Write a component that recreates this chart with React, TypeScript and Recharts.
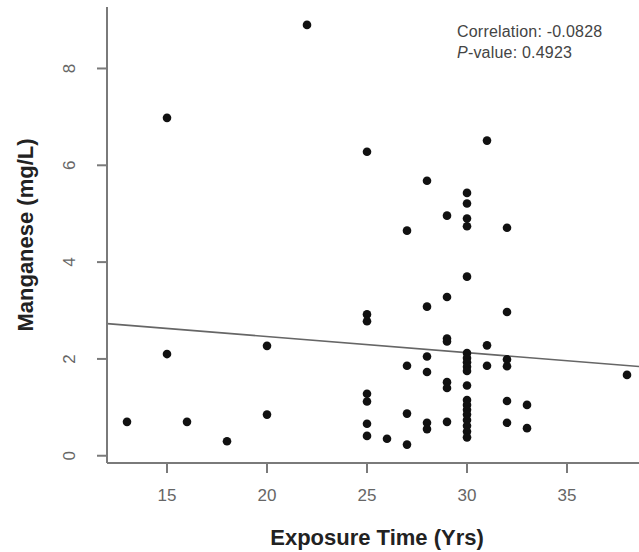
import { ScatterChart, Scatter, XAxis, YAxis, ReferenceLine, Label } from "recharts"

// exposure years and manganese readings, paired by index
const exposureYears = [
  13, 15, 15, 16, 18, 20, 20, 22,
  25, 25, 25, 25, 25, 25, 25, 26,
  27, 27, 27, 27,
  28, 28, 28, 28, 28, 28,
  29, 29, 29, 29, 29, 29, 29,
  30, 30, 30, 30, 30, 30, 30, 30, 30, 30, 30, 30, 30, 30, 30, 30, 30, 30, 30,
  31, 31, 31,
  32, 32, 32, 32, 32, 32,
  33, 33, 38,
]
const manganese = [
  0.7, 6.98, 2.1, 0.7, 0.3, 2.27, 0.85, 8.9,
  6.28, 2.92, 2.78, 1.28, 1.12, 0.66, 0.41, 0.35,
  4.65, 1.86, 0.87, 0.23,
  5.68, 3.08, 2.05, 1.73, 0.68, 0.55,
  4.96, 3.28, 2.42, 2.36, 1.52, 1.4, 0.7,
  5.43, 5.21, 4.9, 4.74, 3.7, 2.12, 2.02, 1.93, 1.84, 1.75, 1.45, 1.15, 1.05, 0.95, 0.85, 0.74, 0.62, 0.5, 0.38,
  6.51, 2.28, 1.86,
  4.71, 2.97, 1.99, 1.85, 1.13, 0.68,
  1.05, 0.57, 1.67,
]
const xTicks = [15, 20, 25, 30, 35]
const yTicks = [0, 2, 4, 6, 8]

// fitted line
const fitStart = { x: 12, y: 2.73 }
const fitEnd = { x: 39, y: 1.83 }

const points = exposureYears.map((x, i) => ({ x, y: manganese[i] }))

const FONT = "'Liberation Sans', Arial, sans-serif"
const AXIS = "#7a7a7a"
const TICK_TEXT = "#666"

const YTick = (props: any) => {
  const { x, y, payload } = props
  const tx = x - 25
  return (
    <text
      x={tx}
      y={y}
      transform={`rotate(-90, ${tx}, ${y})`}
      textAnchor="middle"
      dominantBaseline="central"
      fill={TICK_TEXT}
      fontSize={17}
      fontFamily={FONT}
    >
      {payload.value}
    </text>
  )
}

const Dot = (props: any) => <circle cx={props.cx} cy={props.cy} r={4.3} fill="#111" />

export default function App() {
  return (
    <div style={{ position: "absolute", left: 0, top: 0, width: 639, height: 552, overflow: "hidden", background: "#fff" }}>
      <ScatterChart width={660} height={552} margin={{ top: 7, right: 13, bottom: 0, left: 0 }}>
        <XAxis
          type="number"
          dataKey="x"
          domain={[12, 39]}
          ticks={xTicks}
          allowDataOverflow
          height={89}
          stroke={AXIS}
          strokeWidth={2}
          tickSize={10}
          tick={{ fill: TICK_TEXT, fontSize: 17, fontFamily: FONT, dy: 14 }}
        >
          <Label
            value="Exposure Time (Yrs)"
            position="insideBottom"
            offset={7}
            fill="#222"
            fontSize={22}
            fontWeight="bold"
            fontFamily={FONT}
          />
        </XAxis>
        <XAxis xAxisId="top" type="number" orientation="top" domain={[12, 39]} height={0} tick={false} tickLine={false} stroke={AXIS} strokeWidth={2} />
        <YAxis
          type="number"
          dataKey="y"
          domain={[-0.15, 9.27]}
          ticks={yTicks}
          allowDataOverflow
          width={107}
          stroke={AXIS}
          strokeWidth={2}
          tickSize={10}
          tick={<YTick />}
        >
          <Label
            value="Manganese (mg/L)"
            angle={-90}
            position="insideLeft"
            offset={25}
            fill="#222"
            fontSize={22}
            fontWeight="bold"
            fontFamily={FONT}
            style={{ textAnchor: "middle" }}
          />
        </YAxis>
        <ReferenceLine segment={[fitStart, fitEnd]} stroke="#666" strokeWidth={1.6} ifOverflow="visible" />
        <Scatter data={points} shape={<Dot />} isAnimationActive={false} />
      </ScatterChart>
      <div style={{ position: "absolute", left: 457, top: 21, fontFamily: FONT, fontSize: 16, color: "#444", lineHeight: "21px", letterSpacing: 0.2 }}>
        <div>Correlation: -0.0828</div>
        <div>
          <i>P</i>-value: 0.4923
        </div>
      </div>
    </div>
  )
}
